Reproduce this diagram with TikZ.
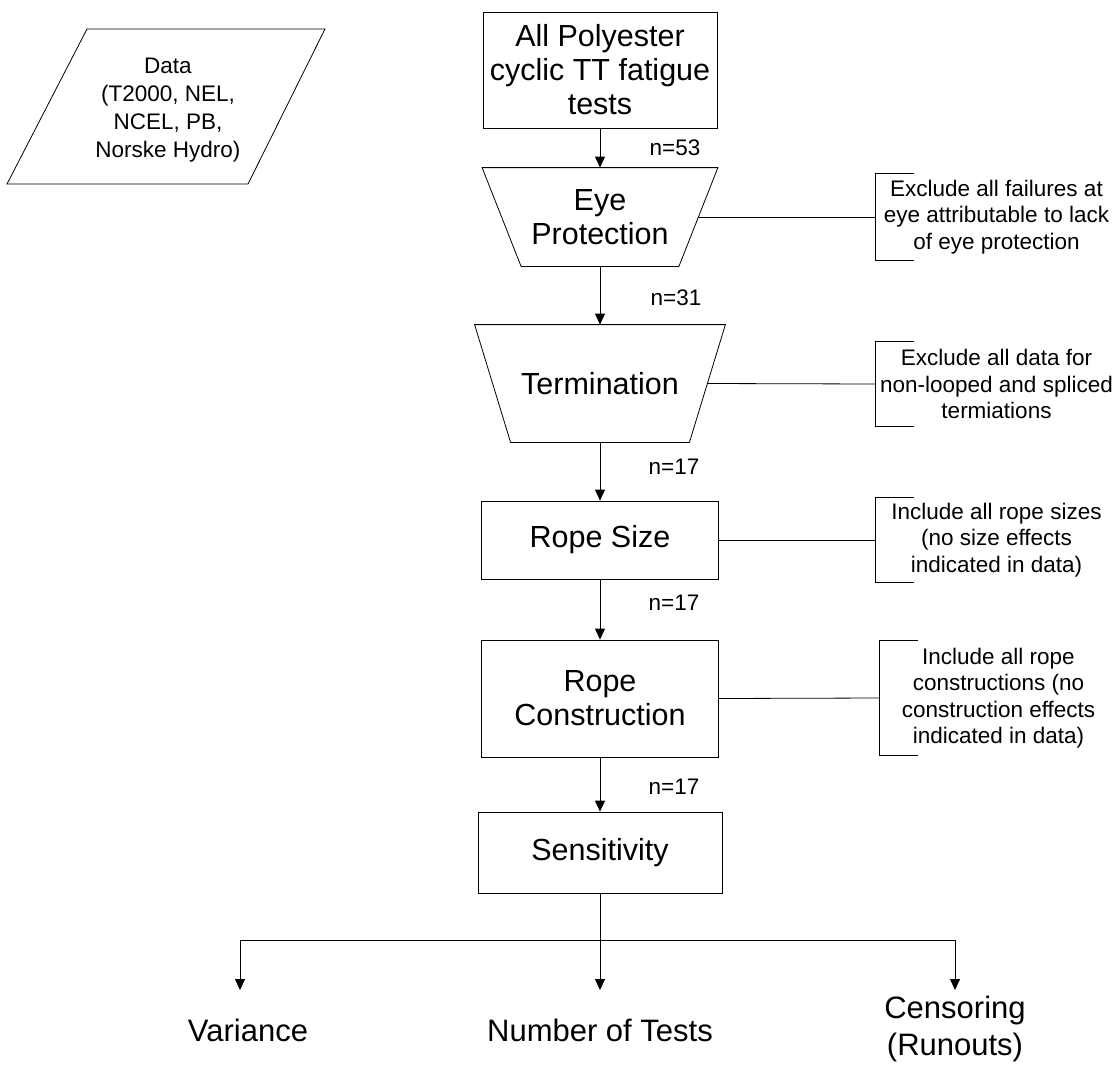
\documentclass[tikz,border=0pt]{standalone}
\usepackage{fontspec}
\setmainfont{Liberation Sans}
\usetikzlibrary{arrows.meta,calc}
\newcommand\fMain{\fontsize{30.5}{34}\selectfont}
\newcommand\fBot{\fontsize{31}{37}\selectfont}
\newcommand\fNote{\fontsize{22.5}{26.5}\selectfont}
\newcommand\fData{\fontsize{22.5}{28}\selectfont}
\begin{document}
\begin{tikzpicture}[x=1pt,y=-1pt,line width=0.8pt,
  >={Triangle[width=10pt,length=11pt]},
  box/.style={draw,inner sep=0pt,align=center,font=\fMain},
  shp/.style={inner sep=0pt,align=center,font=\fMain},
  note/.style={inner sep=0pt,align=center,font=\fNote},
  cnt/.style={inner sep=0pt,font=\fNote},
  bot/.style={inner sep=0pt,align=center,font=\fBot}]
\useasboundingbox (0,0) rectangle (1117,1066);

% data parallelogram
\node[inner sep=0pt,align=center,font=\fData] (data) at (168,110) {Data\\(T2000, NEL,\\NCEL, PB,\\Norske Hydro)};
\draw (87,29) -- (325,29) -- (248,184) -- (7,184) -- cycle;

% main column
\node[box,minimum width=234pt,minimum height=116pt] (all) at (600,70) {All Polyester\\cyclic TT fatigue\\tests};

\node[shp,minimum width=235pt,minimum height=98pt] (eye) at (600,217) {Eye\\Protection};
\draw (eye.north west) -- (eye.north east) -- ([xshift=-39pt]eye.south east) -- ([xshift=39pt]eye.south west) -- cycle;

\node[shp,minimum width=250pt,minimum height=117pt] (term) at (600,383.5) {Termination};
\draw (term.north west) -- (term.north east) -- ([xshift=-36pt]term.south east) -- ([xshift=36pt]term.south west) -- cycle;

\node[box,minimum width=237pt,minimum height=78pt] (rs) at (600,540) {Rope Size};
\node[box,minimum width=237pt,minimum height=117pt] (rc) at (600,698.5) {Rope\\Construction};
\node[box,minimum width=244pt,minimum height=81pt] (sens) at (600,852.5) {Sensitivity};

% counts
\node[cnt] (n1) at (675,148) {n=53};
\node[cnt] (n2) at (676,298) {n=31};
\node[cnt] (n3) at (674,467) {n=17};
\node[cnt] (n4) at (674,603) {n=17};
\node[cnt] (n5) at (674,787) {n=17};

% vertical arrows
\draw[->] (all.south) -- (eye.north);
\draw[->] (eye.south) -- (term.north);
\draw[->] (term.south) -- (rs.north);
\draw[->] (rs.south) -- (rc.north);
\draw[->] (rc.south) -- (sens.north);

% notes
\node[note,minimum width=241pt,minimum height=86pt] (a1) at (996.5,217) {Exclude all failures at\\eye attributable to lack\\of eye protection};
\node[note,minimum width=241pt,minimum height=84pt] (a2) at (996.5,384) {Exclude all data for\\non-looped and spliced\\termiations};
\node[note,minimum width=241pt,minimum height=84pt] (a3) at (996.5,540) {Include all rope sizes\\(no size effects\\indicated in data)};
\node[note,minimum width=237pt,minimum height=114pt] (a4) at (998.5,698) {Include all rope\\constructions (no\\construction effects\\indicated in data)};
\foreach \a in {a1,a2,a3,a4}{
  \draw ([xshift=38pt]\a.north west) -- (\a.north west) -- (\a.south west) -- ([xshift=38pt]\a.south west);
}

\coordinate (eyeR) at ($(eye.east)!0.5!([xshift=-39pt]eye.east)$);
\coordinate (termR) at ($(term.east)!0.5!([xshift=-36pt]term.east)$);
\draw (eyeR) -- (a1.west);
\draw (termR) -- (a2.west);
\draw (rs.east) -- (a3.west);
\draw (rc.east) -- (a4.west);

% bottom split
\coordinate (sp) at (600,940);
\coordinate (bl) at (240,940);
\coordinate (br) at (955,940);
\coordinate (t1) at (240,990);
\coordinate (t2) at (600,990);
\coordinate (t3) at (955,990);
\draw (sens.south) -- (sp);
\draw (bl) -- (br);
\draw[->] (bl) -- (t1);
\draw[->] (sp) -- (t2);
\draw[->] (br) -- (t3);
\node[bot] (var) at (248,1030) {Variance};
\node[bot] (num) at (600,1030) {Number of Tests};
\node[bot] (cen) at (955,1029) {Censoring\\(Runouts)};
\end{tikzpicture}
\end{document}
